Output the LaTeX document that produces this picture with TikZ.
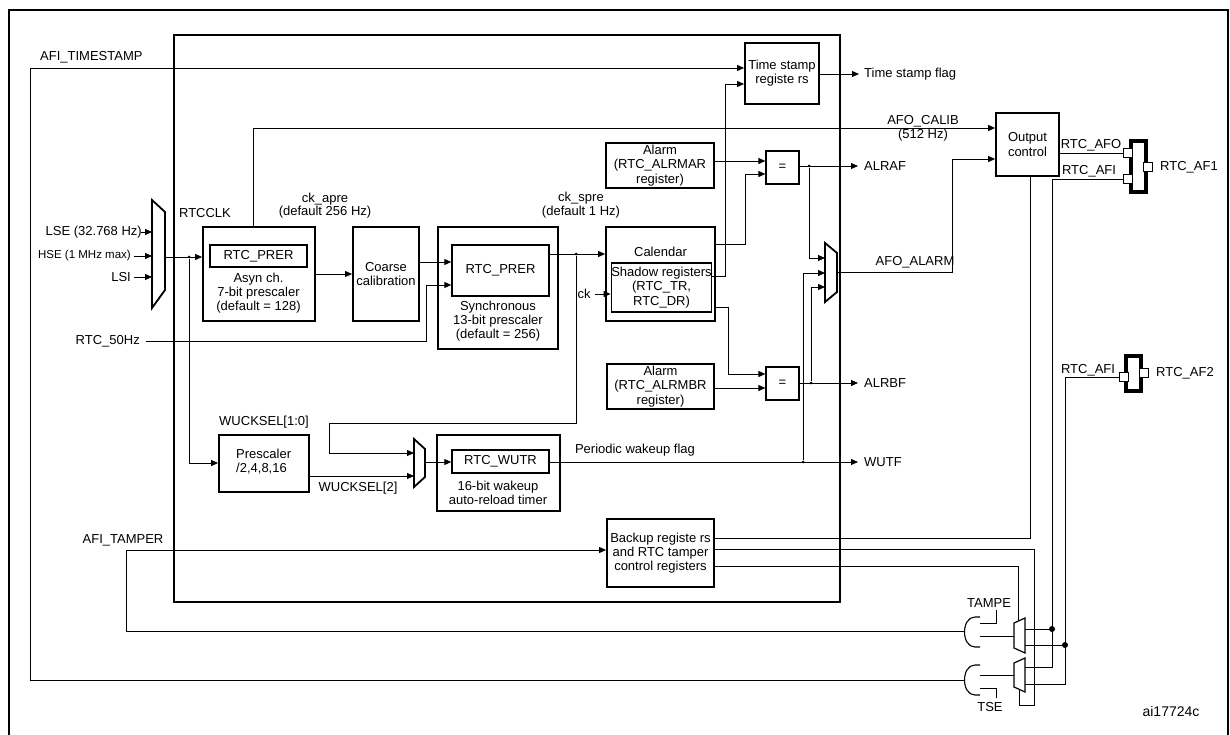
\documentclass[tikz,border=0pt]{standalone}
\usepackage{fontspec}
\setmainfont{Liberation Sans}
\usetikzlibrary{arrows.meta}
\begin{document}
\begin{tikzpicture}[x=1pt,y=-1pt,
  every node/.style={font=\fontsize{13}{14.2}\selectfont,inner sep=0pt},
  box/.style={draw,line width=1.8pt,minimum width=#1},
  ibox/.style={draw,line width=1.4pt},
  ln/.style={line width=0.9pt},
  arr/.style={ln,-{Triangle[length=7pt,width=6pt]}},
  dot/.style={fill,circle,minimum size=3pt},
  bdot/.style={fill,circle,minimum size=6pt},
  sq/.style={draw,fill=white,line width=0.8pt,minimum size=9pt},
  mux/.style={line width=1.8pt,line join=miter}]
\useasboundingbox (0,0) rectangle (1230,735);
% frames
\draw[line width=1.2pt] (9,735) -- (9,10) -- (1228,10) -- (1228,735);
\draw[line width=2.5pt] (174,35) rectangle (840,602);
% boxes
\node[box=74pt,minimum height=61pt,align=center] (ts) at (782,73.5) {Time stamp\\registe rs};
\node[box=63pt,minimum height=63pt,align=center] (oc) at (1027.5,144.5) {Output\\control};
\node[box=108pt,minimum height=45pt,align=center] (almA) at (660,165.5) {Alarm\\(RTC\_ALRMAR\\register)};
\node[draw,line width=1.3pt,minimum width=33pt,minimum height=33pt] (eqA) at (782.5,167.5) {=};
\node[box=109pt,minimum height=94pt] (cal) at (660.5,274) {};
\node at (660.5,252) {Calendar};
\node[ibox,minimum width=93pt,minimum height=49pt,align=center] (sh) at (661.5,287.5) {Shadow registers\\(RTC\_TR,\\RTC\_DR)};
\node[box=107pt,minimum height=45pt,align=center] (almB) at (660.5,386.5) {Alarm\\(RTC\_ALRMBR\\register)};
\node[draw,line width=1.3pt,minimum width=33pt,minimum height=33pt] (eqB) at (782.5,383.5) {=};
\node[box=107pt,minimum height=68pt,align=center] (bk) at (660.5,553) {Backup registe rs\\and RTC tamper\\control registers};
\node[box=112pt,minimum height=94pt] (asyn) at (259,274) {};
\node[ibox,minimum width=97pt,minimum height=22pt] (apr) at (258.5,256) {RTC\_PRER};
\node[align=center] at (258.5,293) {Asyn ch.\\7-bit prescaler\\(default = 128)};
\node[box=66pt,minimum height=94pt,align=center] (coarse) at (386,274) {Coarse\\calibration};
\node[box=120pt,minimum height=122pt] (sync) at (498,288) {};
\node[ibox,minimum width=97pt,minimum height=51pt] (spr) at (500.5,270.5) {RTC\_PRER};
\node[align=center] at (498,321) {Synchronous\\13-bit prescaler\\(default = 256)};
\node[box=90pt,minimum height=57pt] (pre) at (264,463.5) {};
\node[align=left,anchor=west] at (236,462) {Prescaler\\/2,4,8,16};
\node[box=123pt,minimum height=76pt] (wu) at (498.5,473) {};
\node[ibox,minimum width=97pt,minimum height=23pt] (wutr) at (500.5,461.5) {RTC\_WUTR};
\node[align=center] at (498,493) {16-bit wakeup\\auto-reload timer};
% muxes
\draw[mux] (152,200) -- (165,212) -- (165,290) -- (152,308) -- cycle;
\draw[mux] (825,243) -- (837,253) -- (837,292) -- (825,302) -- cycle;
\draw[mux] (414,439) -- (425,449) -- (425,477) -- (414,487) -- cycle;
\draw[mux,line width=1.2pt] (1014,623) -- (1025,618) -- (1025,653) -- (1014,648) -- cycle;
\draw[mux,line width=1.2pt] (1014,663) -- (1025,658) -- (1025,692) -- (1014,687) -- cycle;
% gates
\draw[line width=1.1pt] (980,617) -- (975,617) .. controls (961,617) and (961,647) .. (975,647) -- (980,647);
\draw[line width=1.1pt] (980,665) -- (975,665) .. controls (961,665) and (961,695) .. (975,695) -- (980,695);
\coordinate (ug) at (964,631);
\coordinate (lg) at (964,680);
% connectors
\draw[arr] (lg) -| (30,68) -- (ts.west|-0,68);
\node[anchor=south west] at (40,63) {AFI\_TIMESTAMP};
\draw[arr] (ts.east|-0,74) -- (859,74);
\node[anchor=west] at (864,74) {Time stamp flag};
\draw[arr] (asyn.north-|253,0) |- (oc.west|-0,128);
\node at (923,121) {AFO\_CALIB};
\node at (923,135) {(512 Hz)};
\node[anchor=east] at (142,232) {LSE (32.768 Hz)};
\node[anchor=east,font=\fontsize{11.5}{12}\selectfont] at (131,256) {HSE (1 MHz max)};
\node[anchor=east] at (131,277) {LSI};
\draw[arr] (141,232) -- (152,232);
\draw[arr] (134,256) -- (152,256);
\draw[arr] (134,277) -- (152,277);
\draw[arr] (165,257) -- (asyn.west|-0,257);
\node[dot] (j1) at (189,257) {};
\draw[arr] (j1) |- (pre.west|-0,463);
\node at (205,213) {RTCCLK};
\node at (325,199) {ck\_apre};
\node at (325,212) {(default 256 Hz)};
\draw[arr] (asyn.east|-0,274) -- (coarse.west|-0,274);
\draw[arr] (coarse.east|-0,262) -- (spr.west|-0,262);
\node[anchor=east] at (140,341) {RTC\_50Hz};
\draw[arr] (146,341) -| (426,285) -- (spr.west|-0,285);
\node at (581,198) {ck\_spre};
\node at (581,212) {(default 1 Hz)};
\draw[arr] (spr.east|-0,254) -- (cal.west|-0,254);
\node[dot] (j2) at (576,254) {};
\draw[arr] (j2) -- (576,423) -| (329,453) -- (414,453);
\node at (264,422) {WUCKSEL[1:0]};
\draw[arr] (pre.east|-0,476) -- (414,476);
\node at (358,488) {WUCKSEL[2]};
\draw[arr] (425,462) -- (wutr.west|-0,462);
\draw[arr] (wutr.east|-0,462) -- (858,462);
\node at (635,450) {Periodic wakeup flag};
\node[anchor=west] at (864,462) {WUTF};
\node[dot] (j3) at (803,462) {};
\node at (584,294) {ck};
\draw[arr] (595,294) -- (sh.west|-0,294);
\draw[arr] (sh.east|-0,276) -| (725,84) -- (ts.west|-0,84);
\draw[arr] (cal.east|-0,244) -| (745,174) -- (eqA.west|-0,174);
\draw[arr] (almA.east|-0,161) -- (eqA.west|-0,161);
\draw[arr] (eqA.east|-0,166) -- (858,166);
\node[anchor=west] at (864,166) {ALRAF};
\node[dot] (j4) at (809,166) {};
\draw[arr] (j4) |- (825,258);
\draw[arr] (cal.east|-0,307) -| (728,374) -- (eqB.west|-0,374);
\draw[arr] (almB.east|-0,388) -- (eqB.west|-0,388);
\draw[arr] (eqB.east|-0,383) -- (858,383);
\node[anchor=west] at (864,383) {ALRBF};
\node[dot] (j5) at (811,383) {};
\draw[arr] (j5) |- (825,287);
\draw[arr] (j3) |- (825,273);
\draw[arr] (837,272) -| (952,159) -- (oc.west|-0,159);
\node at (915,262) {AFO\_ALARM};
% output side
\draw[line width=3.5pt] (1131,141) rectangle (1146,192);
\node[sq] (s1) at (1128,153) {};
\node[sq] (s2) at (1128,179) {};
\node[sq] (s3) at (1148,167) {};
\node[anchor=west] at (1160,167) {RTC\_AF1};
\draw[ln] (oc.east|-0,153) -- (s1.west);
\node at (1091,145) {RTC\_AFO};
\draw[ln] (s2.west) -| (1052,667) -- (1025,667);
\node at (1089,171) {RTC\_AFI};
\draw[line width=3.5pt] (1126,356) rectangle (1141,391);
\node[sq] (s4) at (1124,377) {};
\node[sq] (s5) at (1144,373) {};
\node[anchor=west] at (1156,373) {RTC\_AF2};
\draw[ln] (s4.west) -| (1065,684) -- (1025,684);
\node at (1088,370) {RTC\_AFI};
\draw[ln] (1025,629) -- (1052,629);
\node[bdot] at (1052,629) {};
\draw[ln] (1025,645) -- (1065,645);
\node[bdot] at (1065,645) {};
\draw[ln] (oc.south-|1030,0) |- (bk.east|-0,538);
\draw[ln] (bk.east|-0,549) -- (1034,549) -- (1034,705) -- (1019,705) -- (1019,689);
\draw[ln] (bk.east|-0,566) -| (1018,621);
\draw[arr] (ug) -| (126,550) -- (bk.west|-0,550);
\node at (123,540) {AFI\_TAMPER};
\draw[ln] (980,623) -| (996,610);
\node at (989,603) {TAMPE};
\draw[ln] (980,636) -- (1014,636);
\draw[ln] (980,675) -- (1014,675);
\draw[ln] (980,688) -| (996,698);
\node at (990,707) {TSE};
\node[font=\fontsize{14}{15}\selectfont] at (1171,711) {ai17724c};
\end{tikzpicture}
\end{document}
